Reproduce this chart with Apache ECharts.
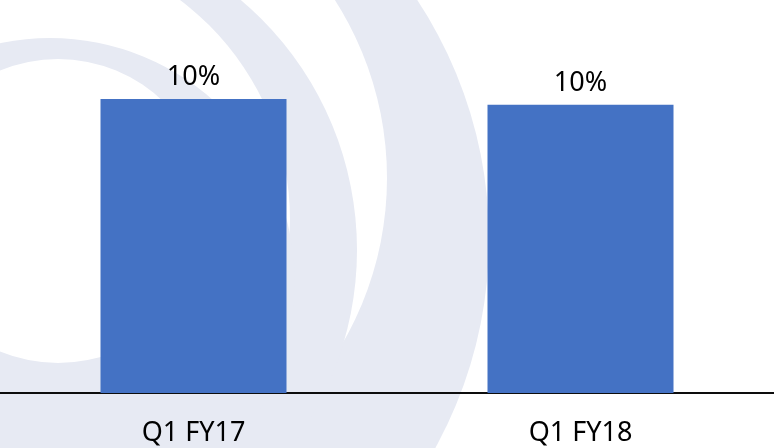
<!DOCTYPE html>
<html>
<head>
<meta charset="utf-8">
<script src="https://cdn.jsdelivr.net/npm/echarts@6/dist/echarts.min.js"></script>
<style>
html, body { margin: 0; padding: 0; background: #ffffff; }
#chart { width: 774px; height: 448px; }
</style>
</head>
<body>
<div id="chart"></div>
<script>
// 季度
var categories = ["Q1 FY17", "Q1 FY18"];
// 百分比数值
var values = [10.2, 10.0];

var barColor = "#4472c4";
var markColor = "#e7eaf3";
var fontName = "Noto Sans";

// 背景水印(圆弧), 按顺序叠加
function disk(cx, cy, r, fill, z) {
    return { type: "circle", z: z, shape: { cx: cx, cy: cy, r: r }, style: { fill: fill } };
}
var watermark = [
    disk(55, 239, 434, markColor, -20),
    disk(57, 178, 330, "#ffffff", -19),
    disk(30, 250, 327, markColor, -18),
    disk(15, 220, 275, "#ffffff", -17),
    disk(50, 283, 245, markColor, -16),
    disk(58, 211, 152, "#ffffff", -15)
];

var myChart = echarts.init(document.getElementById("chart"));
myChart.setOption({
    animation: false,
    backgroundColor: "#ffffff",
    graphic: { elements: watermark },
    grid: {
        left: 0,
        right: 0,
        top: 47,
        bottom: 55,
        containLabel: false
    },
    xAxis: {
        type: "category",
        data: categories,
        axisLine: { lineStyle: { color: "#0d0d0d", width: 2 } },
        axisTick: { show: false },
        axisLabel: {
            color: "#000000",
            fontFamily: fontName,
            fontSize: 27,
            margin: 27
        }
    },
    yAxis: {
        type: "value",
        min: 0,
        max: 12,
        show: false,
        splitLine: { show: false }
    },
    series: [{
        type: "bar",
        data: values,
        barWidth: 186,
        itemStyle: { color: barColor },
        label: {
            show: true,
            position: "top",
            distance: 8,
            color: "#000000",
            fontFamily: fontName,
            fontSize: 27,
            formatter: function (p) {
                return Math.round(p.value) + "%";
            }
        }
    }]
});
</script>
</body>
</html>
